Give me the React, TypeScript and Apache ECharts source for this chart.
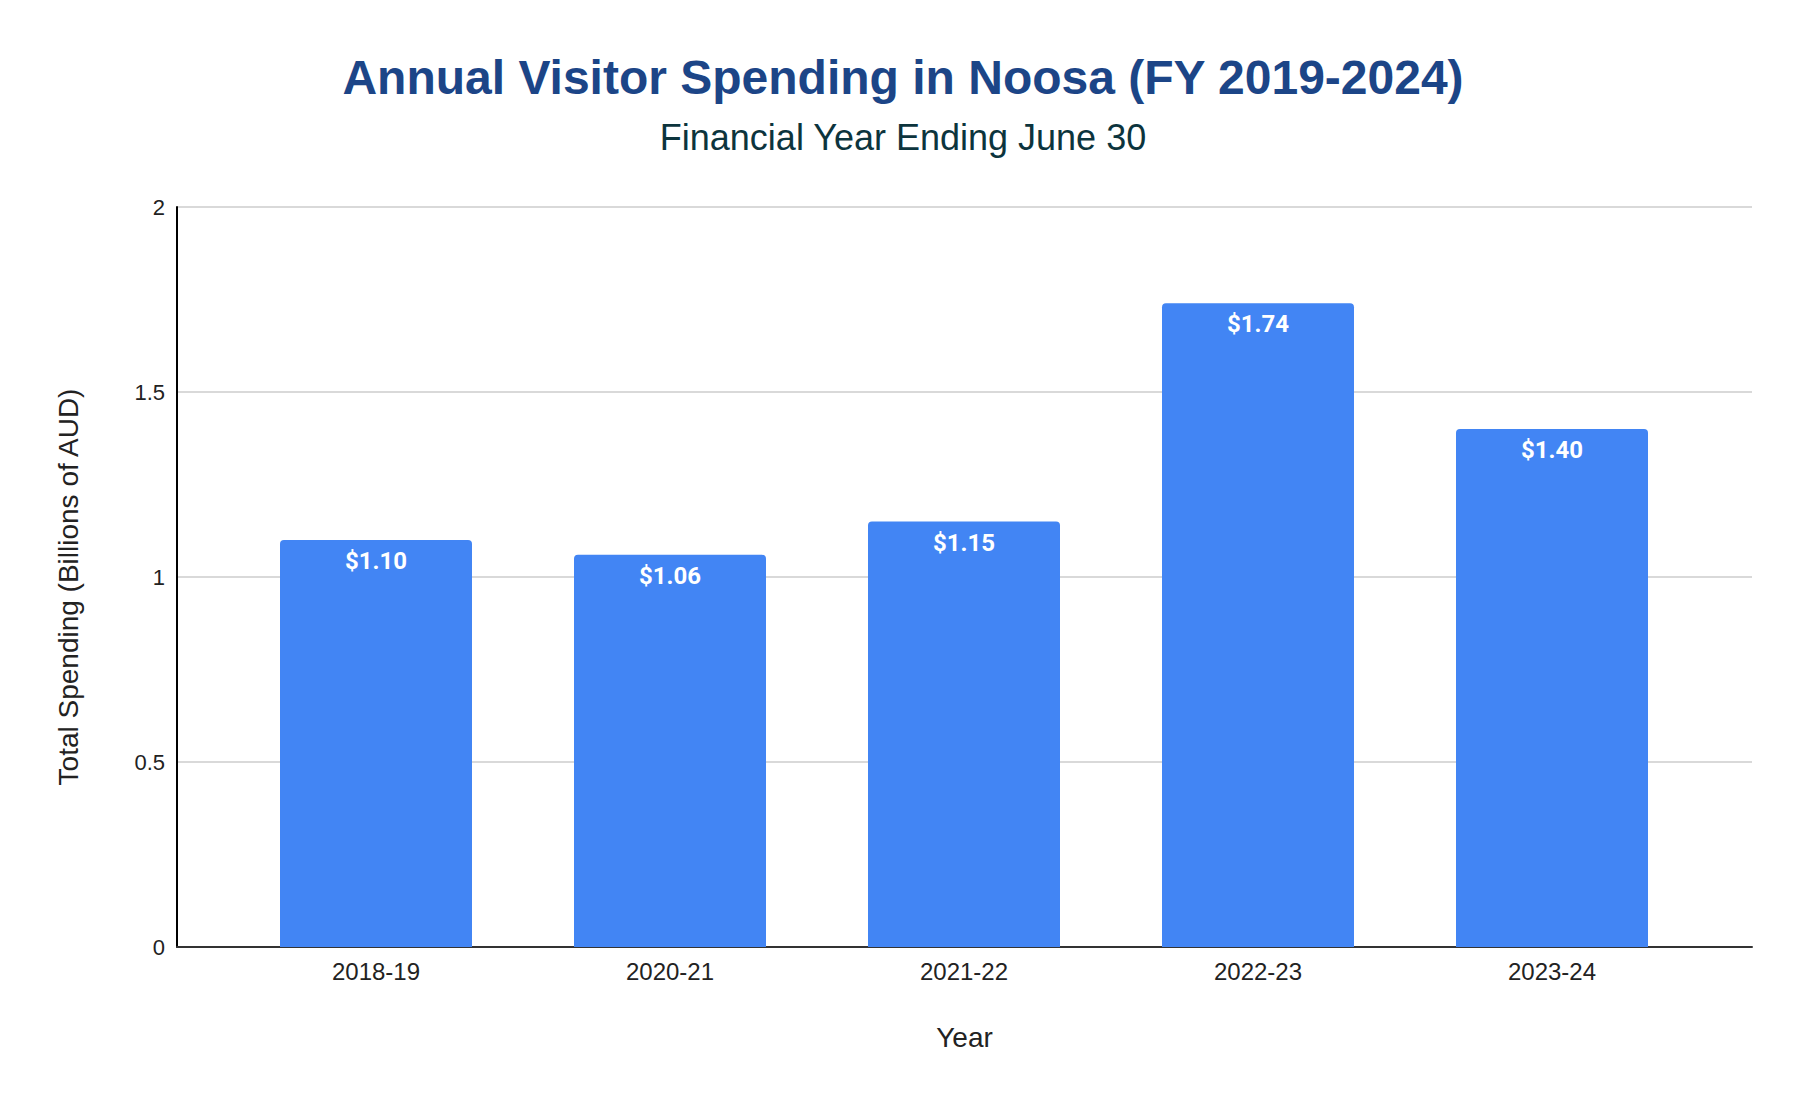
import React, { useEffect, useRef } from "react";
import * as echarts from "echarts";

const categories = ["2018-19", "2020-21", "2021-22", "2022-23", "2023-24"];
const spending = [1.1, 1.06, 1.15, 1.74, 1.4];
const yMin = 0;
const yMax = 2;
const yStep = 0.5;

const titleText = "Annual Visitor Spending in Noosa (FY 2019-2024)";
const subtitleText = "Financial Year Ending June 30";
const xName = "Year";
const yName = "Total Spending (Billions of AUD)";

const ARIAL = "'Liberation Sans', Arial, sans-serif";

const App: React.FC = () => {
  const chartRef = useRef<HTMLDivElement>(null);

  useEffect(() => {
    if (!chartRef.current) return;
    const chart = echarts.init(chartRef.current, null, { renderer: "svg" });

    const option: echarts.EChartsOption = {
      animation: false,
      backgroundColor: "#fff",
      title: [
        {
          text: titleText,
          left: "center",
          top: 48,
          textStyle: { fontFamily: ARIAL, fontSize: 48, fontWeight: "bold", color: "#1c4587" },
        },
        {
          text: subtitleText,
          left: "center",
          top: 114,
          textStyle: { fontFamily: ARIAL, fontSize: 36, fontWeight: "normal", color: "#0c343d" },
        },
      ],
      grid: [
        // full plot area: gridlines, axis lines, axis names
        { left: 177, right: 54, top: 207, bottom: 161 },
        // inner area holding the bars
        { left: 229, right: 107, top: 207, bottom: 161 },
      ],
      xAxis: [
        {
          gridIndex: 0,
          type: "value",
          min: 0,
          max: 1,
          axisLine: { show: true, lineStyle: { color: "#333", width: 2 } },
          axisTick: { show: false },
          axisLabel: { show: false },
          splitLine: { show: false },
          name: xName,
          nameLocation: "middle",
          nameGap: 76,
          nameTextStyle: { fontFamily: ARIAL, fontSize: 28, color: "#222" },
        },
        {
          gridIndex: 1,
          type: "category",
          data: categories,
          axisLine: { show: false },
          axisTick: { show: false },
          axisLabel: { fontFamily: ARIAL, fontSize: 24, color: "#222", margin: 12 },
        },
      ],
      yAxis: [
        {
          gridIndex: 0,
          type: "value",
          min: yMin,
          max: yMax,
          interval: yStep,
          axisLine: { show: true, lineStyle: { color: "#000", width: 2 } },
          axisTick: { show: false },
          axisLabel: { fontFamily: ARIAL, fontSize: 22, color: "#222", margin: 12 },
          splitLine: { show: true, lineStyle: { color: "#cccccc", width: 1.5 } },
          name: yName,
          nameLocation: "middle",
          nameGap: 95,
          nameTextStyle: { fontFamily: ARIAL, fontSize: 28, color: "#222", padding: [0, 20, 0, 0] },
        },
        {
          gridIndex: 1,
          type: "value",
          min: yMin,
          max: yMax,
          interval: yStep,
          show: false,
        },
      ],
      series: [
        {
          type: "bar",
          xAxisIndex: 1,
          yAxisIndex: 1,
          data: spending,
          barWidth: 192,
          itemStyle: { color: "#4285f4", borderRadius: [4, 4, 0, 0] },
          label: {
            show: true,
            position: "insideTop",
            distance: 9,
            formatter: (p: any) => "$" + Number(p.value).toFixed(2),
            color: "#fff",
            fontFamily: "Roboto, sans-serif",
            fontWeight: "bold",
            fontSize: 24,
          },
        },
      ],
    };

    chart.setOption(option);
    return () => {
      chart.dispose();
    };
  }, []);

  return (
    <div
      ref={chartRef}
      style={{ position: "absolute", left: 0, top: 0, width: "1806px", height: "1108px" }}
    />
  );
};

export default App;
